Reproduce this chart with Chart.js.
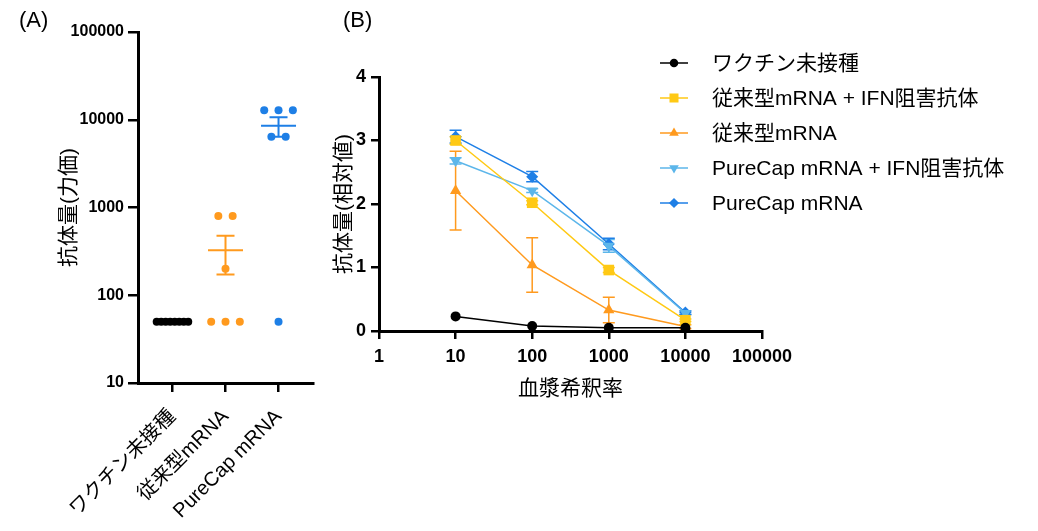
<!DOCTYPE html>
<html>
<head>
<meta charset="utf-8">
<script src="https://cdn.jsdelivr.net/npm/chart.js@4.4.1/dist/chart.umd.min.js"></script>
<style>
  html, body { margin:0; padding:0; background:#fff; }
  #wrap { position:relative; width:1038px; height:531px; overflow:hidden; font-family:'Liberation Sans','Noto Sans CJK JP',sans-serif; }
  canvas { position:absolute; top:0; }
  #chartA { left:0; }
  #chartB { left:300px; }
  .panel { position:absolute; top:7px; font-size:22px; color:#000; }
</style>
</head>
<body>
<div id="wrap">
  <canvas id="chartA" width="320" height="531"></canvas>
  <canvas id="chartB" width="738" height="531"></canvas>
  <div class="panel" style="left:19px">(A)</div>
  <div class="panel" style="left:343px">(B)</div>
</div>
<script>
// ─── Data: panel A (titer, scatter) ───
const groupLabels = ['ワクチン未接種', '従来型mRNA', 'PureCap mRNA'];
const titerUnvaccinated = [50, 50, 50, 50, 50, 50, 50, 50];
const titerConventional = [800, 800, 200, 50, 50, 50];
const titerPureCap = [12800, 12800, 12800, 6400, 6400, 50];
const titerTicks = [10, 100, 1000, 10000, 100000];

// ─── Data: panel B (relative amount vs dilution) ───
const dilutions = [10, 100, 1000, 10000];
const dilutionTicks = [1, 10, 100, 1000, 10000, 100000];
const seriesNames = ['ワクチン未接種', '従来型mRNA + IFN阻害抗体', '従来型mRNA', 'PureCap mRNA + IFN阻害抗体', 'PureCap mRNA'];
const unvaccinated = [0.23, 0.08, 0.05, 0.05];
const conventionalIFN = [3.00, 2.02, 0.96, 0.17];
const conventional = [2.21, 1.04, 0.33, 0.07];
const pureCapIFN = [2.68, 2.21, 1.34, 0.28];
const pureCap = [3.06, 2.43, 1.37, 0.29];
const unvaccinatedErr = [0, 0, 0, 0];
const conventionalIFNErr = [0.06, 0.03, 0.04, 0.02];
const conventionalErr = [0.62, 0.43, 0.20, 0.03];
const pureCapIFNErr = [0.05, 0.03, 0.10, 0.02];
const pureCapErr = [0.10, 0.08, 0.09, 0.03];

// ─── Style ───
const FONT = "'Liberation Sans', 'Noto Sans CJK JP', sans-serif";
Chart.defaults.font.family = FONT;
Chart.defaults.color = '#000';
const C = { black:'#000000', yellow:'#FFC914', orange:'#FF9A1E', light:'#5CB6EA', blue:'#1E7FE6' };

// ─── Helpers ───
function spread(values, center, step) {
    // place duplicates side by side, centered on the group position
    const counts = {}, seen = {};
    values.forEach(v => counts[v] = (counts[v] || 0) + 1);
    return values.map(v => {
        const k = seen[v] = (seen[v] || 0) + 1;
        return { x: center + (k - 1 - (counts[v] - 1) / 2) * step, y: v };
    });
}
function meanSem(a) {
    const m = a.reduce((s, v) => s + v, 0) / a.length;
    const sd = Math.sqrt(a.reduce((s, v) => s + (v - m) ** 2, 0) / (a.length - 1));
    return { m, sem: sd / Math.sqrt(a.length) };
}

// ─── Panel A ───
const groupsA = [titerUnvaccinated, titerConventional, titerPureCap];
const colorsA = [C.black, C.orange, C.blue];
const stepsA = [0.085, 0.27, 0.27];

const meanBars = {
    id: 'meanBars',
    afterDatasetsDraw(chart) {
        const { ctx, scales: { x, y } } = chart;
        ctx.save();
        ctx.lineWidth = 2;
        groupsA.forEach((g, i) => {
            const { m, sem } = meanSem(g);
            const cx = x.getPixelForValue(i);
            const ym = y.getPixelForValue(m), yt = y.getPixelForValue(m + sem), yb = y.getPixelForValue(m - sem);
            ctx.strokeStyle = colorsA[i];
            ctx.beginPath();
            ctx.moveTo(cx - 17.5, ym); ctx.lineTo(cx + 17.5, ym);
            if (sem > 0) {
                ctx.moveTo(cx, yt); ctx.lineTo(cx, yb);
                ctx.moveTo(cx - 9, yt); ctx.lineTo(cx + 9, yt);
                ctx.moveTo(cx - 9, yb); ctx.lineTo(cx + 9, yb);
            }
            ctx.stroke();
        });
        ctx.restore();
    }
};

new Chart(document.getElementById('chartA'), {
    type: 'scatter',
    data: {
        datasets: groupsA.map((g, i) => ({
            data: spread(g, i, stepsA[i]),
            backgroundColor: colorsA[i], borderColor: colorsA[i],
            pointRadius: 4, pointBorderWidth: 0, clip: false
        }))
    },
    options: {
        responsive: false, animation: false,
        layout: { padding: { top: 32, right: 7, left: 0, bottom: 0 } },
        plugins: { legend: { display: false }, tooltip: { enabled: false } },
        scales: {
            x: {
                type: 'linear', min: -0.65, max: 2.65,
                afterBuildTicks: s => { s.ticks = groupLabels.map((_, i) => ({ value: i })); },
                afterFit: s => { s.height = 148; },
                ticks: { callback: v => groupLabels[v], minRotation: 45, maxRotation: 45, padding: 13,
                    font: { size: 20 }, color: '#000' },
                grid: { drawOnChartArea: false, tickLength: 9, color: '#000', lineWidth: 2.5 },
                border: { color: '#000', width: 3 }
            },
            y: {
                type: 'logarithmic', min: 10, max: 100000,
                afterBuildTicks: s => { s.ticks = titerTicks.map(v => ({ value: v })); },
                afterFit: s => { s.width = 138; },
                ticks: { callback: v => String(v), padding: 4, font: { size: 16, weight: 'bold' }, color: '#000' },
                grid: { drawOnChartArea: false, tickLength: 10, color: '#000', lineWidth: 2.5 },
                border: { color: '#000', width: 3 },
                title: { display: true, text: '抗体量(力価)', font: { size: 21 }, color: '#000', padding: { top: 57, bottom: 0 } }
            }
        }
    },
    plugins: [meanBars]
});

// ─── Panel B ───
const seriesB = [
    { name: seriesNames[0], v: unvaccinated, e: unvaccinatedErr, color: C.black, style: 'circle', r: 5, rot: 0 },
    { name: seriesNames[1], v: conventionalIFN, e: conventionalIFNErr, color: C.yellow, style: 'rect', r: 7.5, rot: 0 },
    { name: seriesNames[2], v: conventional, e: conventionalErr, color: C.orange, style: 'triangle', r: 6.5, rot: 0 },
    { name: seriesNames[3], v: pureCapIFN, e: pureCapIFNErr, color: C.light, style: 'triangle', r: 6.5, rot: 180 },
    { name: seriesNames[4], v: pureCap, e: pureCapErr, color: C.blue, style: 'rectRot', r: 6, rot: 0 }
];

const errorBars = {
    id: 'errorBars',
    beforeDatasetsDraw(chart) {
        const { ctx, scales: { x, y } } = chart;
        ctx.save();
        ctx.lineWidth = 1.5;
        seriesB.forEach(s => {
            ctx.strokeStyle = s.color;
            s.v.forEach((v, i) => {
                if (!s.e[i]) return;
                const cx = x.getPixelForValue(dilutions[i]);
                const yt = y.getPixelForValue(v + s.e[i]), yb = y.getPixelForValue(Math.max(0, v - s.e[i]));
                ctx.beginPath();
                ctx.moveTo(cx, yt); ctx.lineTo(cx, yb);
                ctx.moveTo(cx - 6, yt); ctx.lineTo(cx + 6, yt);
                ctx.moveTo(cx - 6, yb); ctx.lineTo(cx + 6, yb);
                ctx.stroke();
            });
        });
        ctx.restore();
    }
};

const sideLegend = {
    id: 'sideLegend',
    afterDraw(chart) {
        const ctx = chart.ctx;
        ctx.save();
        ctx.font = '21px ' + FONT;
        ctx.textBaseline = 'middle';
        ctx.textAlign = 'left';
        seriesB.forEach((s, i) => {
            const y = 63 + 35 * i;
            ctx.strokeStyle = s.color; ctx.lineWidth = 1.5;
            ctx.beginPath(); ctx.moveTo(360, y); ctx.lineTo(388, y); ctx.stroke();
            ctx.fillStyle = s.color;
            Chart.helpers.drawPoint(ctx, { pointStyle: s.style, radius: s.r * 0.85, rotation: s.rot, borderWidth: 0 }, 374, y);
            ctx.fillStyle = '#000';
            ctx.fillText(s.name, 412, y + 1);
        });
        ctx.restore();
    }
};

new Chart(document.getElementById('chartB'), {
    type: 'line',
    data: {
        datasets: seriesB.map(s => ({
            label: s.name,
            data: s.v.map((v, i) => ({ x: dilutions[i], y: v })),
            borderColor: s.color, backgroundColor: s.color,
            borderWidth: 1.5, pointStyle: s.style, pointRadius: s.r, pointRotation: s.rot,
            pointBorderWidth: 0, tension: 0, clip: false
        }))
    },
    options: {
        responsive: false, animation: false,
        layout: { padding: { top: 77, right: 276, left: 0, bottom: 0 } },
        plugins: { legend: { display: false }, tooltip: { enabled: false } },
        scales: {
            x: {
                type: 'logarithmic', min: 1, max: 100000,
                afterBuildTicks: s => { s.ticks = dilutionTicks.map(v => ({ value: v })); },
                afterFit: s => { s.height = 200; },
                ticks: { callback: v => String(v), padding: 7, font: { size: 18, weight: 'bold' }, color: '#000', maxRotation: 0 },
                grid: { drawOnChartArea: false, tickLength: 8, color: '#000', lineWidth: 2.5 },
                border: { color: '#000', width: 3 },
                title: { display: true, text: '血漿希釈率', font: { size: 21 }, color: '#000', padding: { top: 0, bottom: 129 } }
            },
            y: {
                min: 0, max: 4,
                afterFit: s => { s.width = 79; },
                ticks: { stepSize: 1, padding: 5, font: { size: 18, weight: 'bold' }, color: '#000' },
                grid: { drawOnChartArea: false, tickLength: 8, color: '#000', lineWidth: 2.5 },
                border: { color: '#000', width: 3 },
                title: { display: true, text: '抗体量(相対値)', font: { size: 21 }, color: '#000', padding: { top: 32, bottom: 0 } }
            }
        }
    },
    plugins: [errorBars, sideLegend]
});
</script>
</body>
</html>
